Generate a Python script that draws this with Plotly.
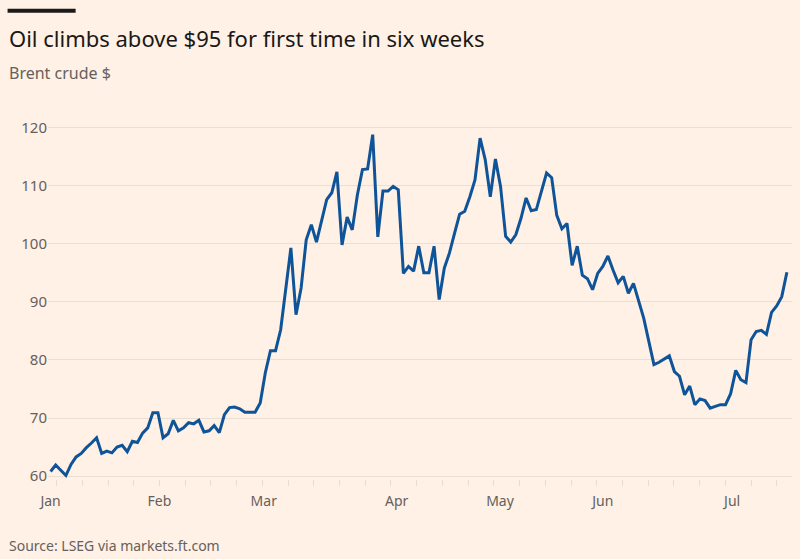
import plotly.graph_objects as go

# ---- data ----
prices = [
    60.8, 61.9, 61.0, 60.1, 62.0, 63.3, 63.9, 64.9, 65.7, 66.6,
    63.9, 64.3, 64.0, 65.0, 65.3, 64.2, 66.0, 65.8, 67.4, 68.3,
    70.9, 70.9, 66.6, 67.3, 69.6, 67.8, 68.3, 69.2, 69.0, 69.6,
    67.6, 67.8, 68.7, 67.5, 70.6, 71.8, 71.9, 71.6, 71.0, 71.0,
    71.0, 72.6, 77.8, 81.6, 81.6, 85.2, 92.1, 99.3, 87.8, 92.4,
    100.7, 103.3, 100.3, 104.2, 107.6, 108.8, 112.4, 99.8, 104.6, 102.4,
    108.4, 112.8, 112.9, 118.8, 101.2, 109.1, 109.1, 109.9, 109.3, 94.9,
    96.1, 95.3, 99.6, 95.0, 95.0, 99.6, 90.4, 95.8, 98.4, 101.8,
    105.1, 105.6, 108.1, 111.0, 118.2, 114.5, 108.1, 114.6, 109.9, 101.3,
    100.3, 101.6, 104.4, 107.9, 105.7, 105.9, 109.3, 112.2, 111.4, 104.9,
    102.6, 103.5, 96.3, 99.6, 94.6, 94.0, 92.1, 94.9, 96.1, 97.9,
    95.5, 93.3, 94.4, 91.5, 93.2, 90.4, 87.2, 83.2, 79.2, 79.6,
    80.1, 80.7, 78.0, 77.2, 74.0, 75.5, 72.3, 73.3, 73.0, 71.7,
    72.0, 72.3, 72.3, 74.2, 78.2, 76.6, 76.1, 83.5, 84.9, 85.1,
    84.4, 88.2, 89.3, 90.9, 95.1,
]
trading_day = list(range(len(prices)))
month_labels = ["Jan", "Feb", "Mar", "Apr", "May", "Jun", "Jul"]
month_positions = [0, 21.3, 41.7, 67.7, 87.9, 108.0, 133.3]
y_ticks = [60, 70, 80, 90, 100, 110, 120]

# ---- layout geometry ----
W, H = 800, 559
ml, mr, mt, mb = 48.4, 8.1, 119.3, 79.6
pw, ph = W - ml - mr, H - mt - mb

def px(x):
    return (x - ml) / pw

def py(y):
    return (H - mb - y) / ph

BG = "#FFF1E5"
fig = go.Figure()
fig.add_trace(go.Scatter(
    x=trading_day, y=prices, mode="lines",
    line=dict(color="#0F5499", width=3), hoverinfo="skip", showlegend=False,
))

fig.update_layout(
    width=W, height=H,
    margin=dict(l=ml, r=mr, t=mt, b=mb),
    paper_bgcolor=BG, plot_bgcolor=BG,
    font=dict(family="Noto Sans, sans-serif", color="#66605C"),
    xaxis=dict(
        range=[-0.5, 145], tickvals=month_positions, ticktext=month_labels,
        showgrid=False, zeroline=False, showline=False,
        ticks="", 
        tickfont=dict(size=14, color="#66605C"),
        ticklabelstandoff=12,
        minor=dict(dtick=5.03, tick0=21.3, ticks="outside", ticklen=6,
                   tickcolor="#E9DCD0", showgrid=False),
    ),
    yaxis=dict(
        range=[59.5, 121.5], tickvals=y_ticks,
        showgrid=True, gridcolor="#EBDED2", gridwidth=1,
        zeroline=False, showline=False, ticks="",
        tickfont=dict(size=15, color="#66605C"),
    ),
    shapes=[dict(type="rect", xref="paper", yref="paper",
                 x0=px(8), x1=px(76), y0=py(13), y1=py(9),
                 fillcolor="#1a1a1a", line=dict(width=0))],
    annotations=[
        dict(text="Oil climbs above $95 for first time in six weeks",
             xref="paper", yref="paper", x=px(7), y=py(38),
             xanchor="left", yanchor="middle", showarrow=False,
             font=dict(size=22, color="#1a1817")),
        dict(text="Brent crude $", xref="paper", yref="paper",
             x=px(7), y=py(73), xanchor="left", yanchor="middle",
             showarrow=False, font=dict(size=16, color="#66605C")),
        dict(text="Source: LSEG via markets.ft.com", xref="paper", yref="paper",
             x=px(7), y=py(546), xanchor="left", yanchor="middle",
             showarrow=False, font=dict(size=14, color="#66605C")),
    ],
)

fig.write_html("out.html")
